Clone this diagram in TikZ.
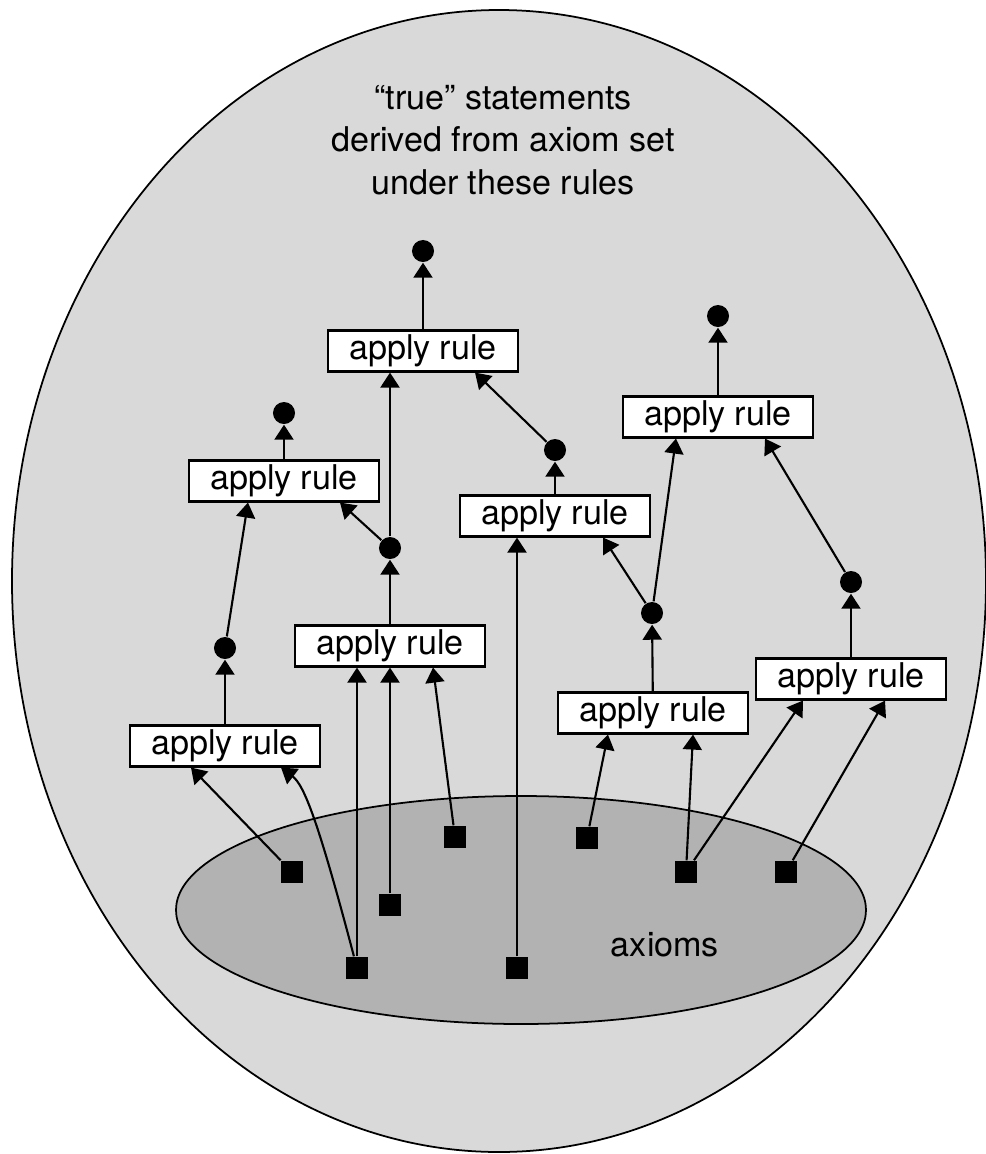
\documentclass[tikz,border=0pt]{standalone}
\usepackage{fontspec}
\setmainfont{TeX Gyre Heros}
\usepackage{xcolor}
\usepackage{tikz}
\usetikzlibrary{arrows.meta}

\begin{document}
\begin{tikzpicture}[x=0.01cm,y=-0.01cm,>={Triangle[length=0.15cm,width=0.19cm]},
  every node/.style={font=\fontsize{9.7}{12.1}\selectfont},
  rulebox/.style={draw,fill=white,line width=0.6pt,minimum width=1.9cm,minimum height=0.41cm,inner sep=0pt},
  stmt/.style={circle,fill=black,minimum size=0.22cm,inner sep=0pt},
  axiom/.style={rectangle,fill=black,minimum size=0.22cm,inner sep=0pt},
  link/.style={->,line width=0.6pt}]
  \useasboundingbox (0,0) rectangle (986,1154);
  % Regions: derived statements and the axiom set
  \draw[fill=black!15,line width=0.5pt] (499,581) ellipse [x radius=487,y radius=571];
  \draw[fill=black!30,line width=0.5pt] (521,910) ellipse [x radius=345,y radius=114];
  \node[align=center] (title) at (503,140) {“true” statements\\derived from axiom set\\under these rules};
  \node (axlabel) at (665,945) {axioms};

  % Axioms
  \node[axiom] (x1) at (292,872) {};
  \node[axiom] (x2) at (390,905) {};
  \node[axiom] (x3) at (357,968) {};
  \node[axiom] (x4) at (455,837) {};
  \node[axiom] (x5) at (517,968) {};
  \node[axiom] (x6) at (587,838) {};
  \node[axiom] (x7) at (686,872) {};
  \node[axiom] (x8) at (786,872) {};

  % Rule applications
  \node[rulebox] (a1) at (225,746) {apply rule};
  \node[rulebox] (a2) at (390,646) {apply rule};
  \node[rulebox] (a3) at (284,481) {apply rule};
  \node[rulebox] (a4) at (423,351) {apply rule};
  \node[rulebox] (a5) at (555,516) {apply rule};
  \node[rulebox] (a6) at (718,417) {apply rule};
  \node[rulebox] (a7) at (653,713) {apply rule};
  \node[rulebox] (a8) at (851,679) {apply rule};

  % Derived statements
  \node[stmt] (r1) at (423,251) {};
  \node[stmt] (r2) at (284,413) {};
  \node[stmt] (r3) at (390,548) {};
  \node[stmt] (r4) at (225,648) {};
  \node[stmt] (r5) at (555,450) {};
  \node[stmt] (r6) at (718,316) {};
  \node[stmt] (r7) at (652,613) {};
  \node[stmt] (r8) at (851,582) {};

  % Left tree
  \draw[link] (x1) -- ([xshift=-0.34cm]a1.south);
  \draw[link] (x3) .. controls (318,820) and (304,785) .. ([xshift=0.56cm]a1.south);
  \draw[link] (a1) -- (r4);
  \draw[link] (r4) -- ([xshift=-0.36cm]a3.south);
  \draw[link] (a3) -- (r2);
  \draw[link] (x3) -- (x3 |- a2.south);
  \draw[link] (x2) -- (a2);
  \draw[link] (x4) -- ([xshift=0.43cm]a2.south);
  \draw[link] (a2) -- (r3);
  \draw[link] (r3) -- ([xshift=0.56cm]a3.south);
  \draw[link] (r3) -- (r3 |- a4.south);
  \draw[link] (a4) -- (r1);
  % Middle tree
  \draw[link] (x5) -- (x5 |- a5.south);
  \draw[link] (a5) -- (r5);
  \draw[link] (r5) -- ([xshift=0.52cm]a4.south);
  % Right tree
  \draw[link] (x6) -- ([xshift=-0.45cm]a7.south);
  \draw[link] (x7) -- ([xshift=0.40cm]a7.south);
  \draw[link] (a7) -- (r7);
  \draw[link] (r7) -- ([xshift=0.48cm]a5.south);
  \draw[link] (r7) -- ([xshift=-0.42cm]a6.south);
  \draw[link] (x7) -- ([xshift=-0.48cm]a8.south);
  \draw[link] (x8) -- ([xshift=0.34cm]a8.south);
  \draw[link] (a8) -- (r8);
  \draw[link] (r8) -- ([xshift=0.47cm]a6.south);
  \draw[link] (a6) -- (r6);
\end{tikzpicture}
\end{document}
